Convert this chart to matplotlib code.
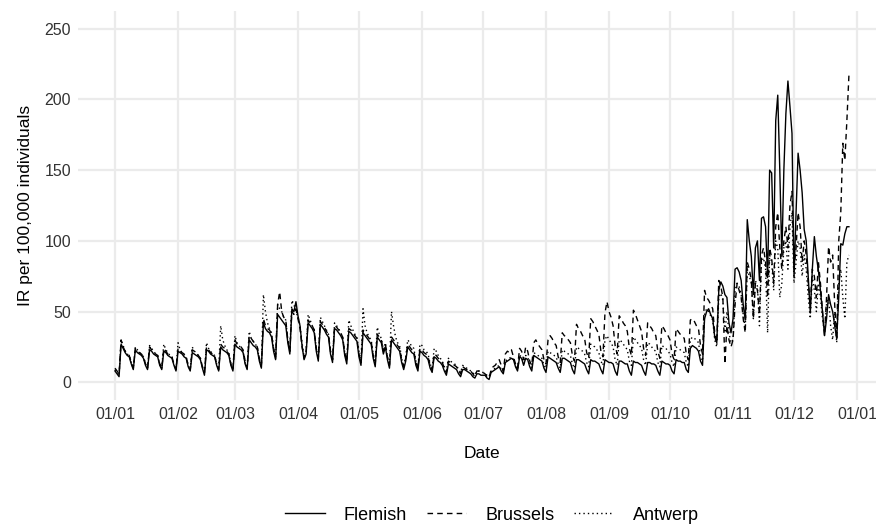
import matplotlib
matplotlib.use("Agg")
import matplotlib.pyplot as plt
import matplotlib.dates as mdates
import numpy as np
import pandas as pd

# Daily incidence rates (per 100,000), 2021-01-01 .. 2021-12-28
flemish = [
    8,6,4, 27,24,21,19,18,13,9, 23,21,20,19,17,12,9, 23,22,20,19,18,12,9, 22,21,19,18,17,12,8,
    22,21,20,18,17,11,8, 21,20,19,18,16,10,5, 23,22,20,19,18,12,8, 25,23,22,21,19,12,8,
    27,25,24,23,21,13,9, 30,28,26,25,23,15,10, 42,38,36,35,32,22,16, 48,46,44,42,40,28,20, 52,50,57,
    47,40,26,16, 20,42,40,38,35,22,15, 41,39,37,34,32,20,14, 38,37,35,33,30,19,13, 36,35,33,31,29,
    18,12, 35,33,31,29,27,17,11, 32,30,28,20,25,16,10, 30,28,26,24,22,14,9, 15,25,23,21,20,12,8, 22,
    21,19,18,16,10,7, 18,17,15,14,12,8,5, 13,12,11,10,9,6,4, 9,9,8,7,6,4,3, 6,6,5,
    5,5,3,2, 7,8,9,10,11,8,6, 14,15,16,17,16,11,8, 18,17,12,17,16,11,8, 19,18,17,16,15,10,
    7, 18,17,16,15,14,10,7, 17,17,16,15,14,9,6, 16,16,15,14,13,9,6, 16,15,15,14,13,9,6, 16,15,
    14,14,13,8,5, 15,15,14,13,13,8,5, 15,14,14,13,12,8,5, 14,14,13,13,12,8,5, 15,14,13,13,
    12,8,6, 16,15,15,14,14,9,7, 24,26,25,24,22,15,12, 45,50,52,48,45,32,28, 65,71,68,62,60,42,35,
    45,80,81,78,72,55,44, 115,100,89,62,95,100,72, 116,117,110,74,150,148,95, 185,203,150,89,150,190,213, 195,176,
    74,120,162,150,134, 108,100,75,49,80,103,89, 79,65,50,33,45,62,55, 50,40,31,60,98,97,105, 110,110,
]
brussels = [
    10,8,6, 30,25,22,20,19,14,10, 24,22,21,20,18,13,10, 25,23,21,20,19,13,10, 24,22,20,19,18,13,9,
    24,22,21,20,18,12,9, 23,22,20,19,17,11,7, 25,23,21,20,19,13,9, 27,25,24,22,20,13,9,
    30,27,26,25,23,15,10, 33,31,29,27,25,17,12, 45,40,38,37,34,24,18, 55,64,50,46,44,30,22, 50,48,52,
    45,38,25,17, 22,44,42,40,37,24,17, 43,41,39,36,34,22,16, 40,39,37,35,32,21,15, 38,37,35,33,31,
    20,14, 37,35,33,31,29,19,13, 34,32,30,22,27,18,12, 32,30,28,26,24,16,11, 17,27,25,23,22,14,10, 24,
    23,21,20,18,12,9, 20,19,17,16,14,10,7, 15,14,13,12,11,8,6, 11,10,9,9,8,6,4, 8,8,7,
    7,6,4,3, 9,11,12,14,16,12,8, 20,22,21,23,18,13,10, 24,22,16,25,22,15,12, 28,30,27,25,23,16,
    13, 30,33,31,28,26,18,14, 35,33,32,30,28,19,15, 41,38,36,33,31,21,17, 45,43,40,37,34,22,18, 49,57,
    50,46,40,26,20, 47,45,42,40,36,24,19, 51,48,44,40,36,24,19, 42,40,38,35,33,22,17, 40,38,35,33,
    30,20,16, 38,36,34,33,31,20,16, 44,45,43,40,38,26,20, 65,60,58,55,52,35,28, 72,68,60,13,40,30,25,
    30,55,70,65,60,45,35, 85,80,72,45,70,65,48, 90,95,85,60,95,88,70, 110,120,95,80,100,110,95, 125,135,
    80,95,120,110,85, 100,90,70,55,80,75,60, 85,70,50,33,60,96,85, 90,55,30,100,120,169,157, 185,217,
]
antwerp = [
    9,7,5, 30,26,22,20,19,14,10, 25,23,21,20,18,13,10, 26,24,22,20,19,13,10, 27,23,21,19,18,13,9,
    28,23,21,19,18,12,9, 25,22,21,19,17,11,6, 28,24,22,20,19,13,9, 40,30,26,23,21,13,9,
    33,28,26,24,22,14,10, 36,31,29,27,25,16,11, 62,50,42,38,35,24,17, 55,52,50,46,44,30,22, 58,55,50,
    46,40,28,18, 22,48,44,40,37,24,17, 46,43,40,37,34,22,16, 42,40,38,35,32,21,15, 44,40,37,34,32,
    22,15, 52,40,35,32,30,20,14, 39,34,31,23,28,18,12, 50,40,32,28,26,17,11, 18,30,28,25,24,15,11, 27,
    26,23,22,20,13,10, 24,22,19,17,15,11,8, 17,15,14,13,12,9,7, 12,11,10,9,8,7,5, 8,8,7,
    7,6,5,4, 8,9,10,11,12,9,7, 15,16,17,18,16,12,9, 19,18,13,19,18,13,10, 21,20,19,18,17,12,
    10, 22,21,20,19,18,13,10, 23,22,21,20,19,13,10, 25,24,23,22,20,14,11, 27,26,25,23,21,15,12, 30,33,
    30,28,25,16,12, 30,29,27,25,23,15,12, 32,30,28,26,24,16,12, 28,27,25,23,22,14,11, 26,25,24,22,
    20,14,11, 25,24,23,22,21,14,11, 30,32,31,30,28,19,15, 48,52,50,47,44,30,25, 60,63,58,35,50,35,28,
    30,65,70,68,62,48,38, 80,75,70,45,72,68,40, 85,88,80,35,90,85,65, 100,95,60,70,95,100,80, 110,120,
    70,85,100,95,75, 90,80,60,45,75,65,50, 70,60,45,35,55,60,40, 30,50,28,70,80,60,45, 85,90,
]
series_names = ["Flemish", "Brussels", "Antwerp"]
series_styles = ["-", (0, (4, 3)), (0, (1, 2.2))]
start_date = "2021-01-01"
y_ticks = [0, 50, 100, 150, 200, 250]
x_label = "Date"
y_label = "IR per 100,000 individuals"

plt.rcParams["font.family"] = ["Liberation Sans", "DejaVu Sans"]

fig = plt.figure(figsize=(8.76, 5.25), dpi=100)
W, H = 876, 525
px_left, px_right, px_top, px_bottom = 78, 886, 11, 400
ax = fig.add_axes([px_left / W, 1 - px_bottom / H, (px_right - px_left) / W, (px_bottom - px_top) / H])

lines = []
for name, vals, ls in zip(series_names, [flemish, brussels, antwerp], series_styles):
    dates = pd.date_range(start_date, periods=len(vals), freq="D")
    ln, = ax.plot(dates, vals, color="black", linestyle=ls, linewidth=1.0, label=name)
    lines.append(ln)

# x range in pixel calibration: 01/01 at px 115, 2.033 px per day
d0 = pd.Timestamp(start_date)
ppd = 2.033
ax.set_xlim(d0 + pd.Timedelta(days=(px_left - 115) / ppd), d0 + pd.Timedelta(days=(px_right - 115) / ppd))
ax.set_ylim(-12.5, 262.5)

ticks = pd.date_range("2021-01-01", "2022-01-01", freq="MS")
ax.set_xticks(ticks)
ax.xaxis.set_major_formatter(mdates.DateFormatter("%d/%m"))
ax.set_yticks(y_ticks)

for s in ax.spines.values():
    s.set_visible(False)
ax.grid(True, color="#EBEBEB", linewidth=1.6)
ax.set_axisbelow(True)
ax.tick_params(length=0, labelsize=11.5, labelcolor="#333333", pad=5)
ax.set_xlabel(x_label, fontsize=12.5, labelpad=17)
ax.set_ylabel(y_label, fontsize=12.5, labelpad=8)

fig.legend(handles=lines, loc="center", bbox_to_anchor=(492 / W, 1 - 515 / H), ncol=3,
           frameon=False, fontsize=13, handlelength=2.2, handletextpad=1.05, columnspacing=1.1)

fig.savefig("out.png", dpi=100, facecolor="white")
